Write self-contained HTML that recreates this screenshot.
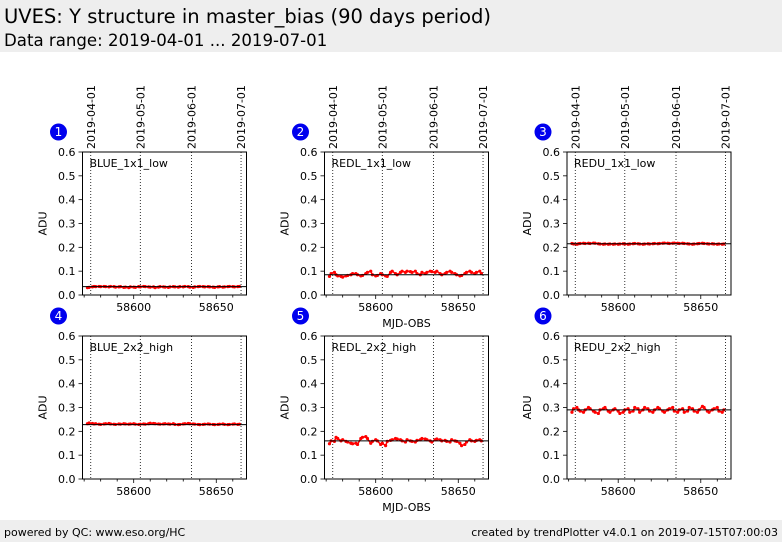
<!DOCTYPE html>
<html><head><meta charset="utf-8">
<style>
body{margin:0;width:782px;height:542px;background:#fff;overflow:hidden;font-family:"DejaVu Sans","Liberation Sans",sans-serif;}
svg text{font-family:"DejaVu Sans","Liberation Sans",sans-serif;}
</style></head>
<body>
<svg id="chart" width="782" height="542" xmlns="http://www.w3.org/2000/svg">
<rect x="0" y="0" width="782" height="52" fill="#eeeeee"/>
<text x="4" y="23" font-size="19.5">UVES: Y structure in master_bias (90 days period)</text>
<text x="4" y="46" font-size="16.6">Data range: 2019-04-01 ... 2019-07-01</text>
<rect x="0" y="520" width="782" height="22" fill="#eeeeee"/>
<text x="4" y="536" font-size="11">powered by QC: www.eso.org/HC</text>
<text x="778" y="536" font-size="11" text-anchor="end">created by trendPlotter v4.0.1 on 2019-07-15T07:00:03</text>
<g id="panels"></g>
</svg>
<script>
const mjd=[58572,58573,58575,58576,58577,58579,58580,58582,58583,58585,58586,58588,58589,58591,58592,58594,58595,58597,58598,58600,58601,58603,58604,58606,58607,58609,58610,58612,58613,58615,58616,58618,58619,58621,58622,58624,58625,58627,58628,58630,58631,58633,58634,58636,58637,58639,58640,58642,58643,58645,58646,58648,58649,58651,58652,58654,58655,58657,58658,58660,58661,58663,58664];
const panelNames=["BLUE_1x1_low","REDL_1x1_low","REDU_1x1_low","BLUE_2x2_high","REDL_2x2_high","REDU_2x2_high"];
const refLines=[0.035,0.085,0.215,0.228,0.16,0.29];
const v1=[0.031,0.032,0.034,0.036,0.035,0.036,0.035,0.036,0.035,0.034,0.036,0.035,0.033,0.034,0.035,0.032,0.033,0.031,0.034,0.033,0.032,0.035,0.034,0.036,0.035,0.034,0.033,0.034,0.031,0.033,0.035,0.034,0.033,0.032,0.034,0.035,0.034,0.033,0.035,0.034,0.036,0.035,0.033,0.032,0.034,0.035,0.036,0.035,0.034,0.035,0.034,0.033,0.032,0.034,0.035,0.033,0.034,0.035,0.036,0.035,0.034,0.035,0.036];
const v2=[0.078,0.09,0.095,0.085,0.08,0.078,0.075,0.08,0.082,0.085,0.09,0.09,0.085,0.08,0.082,0.09,0.095,0.1,0.085,0.08,0.082,0.09,0.085,0.08,0.078,0.095,0.1,0.09,0.085,0.095,0.1,0.095,0.1,0.098,0.095,0.1,0.09,0.085,0.095,0.09,0.095,0.1,0.098,0.095,0.1,0.09,0.085,0.09,0.095,0.1,0.095,0.09,0.085,0.08,0.082,0.09,0.095,0.1,0.095,0.09,0.095,0.1,0.09];
const v3=[0.216,0.214,0.213,0.215,0.216,0.217,0.216,0.217,0.216,0.218,0.217,0.215,0.214,0.213,0.214,0.213,0.214,0.213,0.214,0.213,0.214,0.215,0.214,0.213,0.214,0.215,0.216,0.215,0.214,0.213,0.214,0.215,0.214,0.215,0.216,0.215,0.216,0.217,0.218,0.217,0.216,0.217,0.218,0.217,0.216,0.217,0.216,0.215,0.214,0.213,0.214,0.215,0.216,0.217,0.216,0.215,0.214,0.215,0.214,0.213,0.214,0.213,0.214];
const v4=[0.232,0.235,0.233,0.231,0.232,0.230,0.229,0.231,0.232,0.233,0.231,0.230,0.229,0.231,0.230,0.232,0.231,0.230,0.231,0.232,0.230,0.229,0.230,0.231,0.230,0.232,0.234,0.233,0.232,0.231,0.230,0.231,0.232,0.231,0.230,0.232,0.229,0.228,0.229,0.231,0.232,0.233,0.232,0.231,0.230,0.229,0.228,0.229,0.230,0.231,0.230,0.229,0.228,0.229,0.230,0.231,0.229,0.228,0.229,0.230,0.231,0.229,0.230];
const v5=[0.148,0.16,0.158,0.175,0.17,0.16,0.165,0.158,0.155,0.15,0.148,0.15,0.145,0.17,0.175,0.178,0.17,0.15,0.158,0.165,0.16,0.145,0.15,0.14,0.158,0.162,0.165,0.17,0.168,0.165,0.16,0.155,0.165,0.16,0.158,0.155,0.162,0.165,0.17,0.168,0.165,0.16,0.155,0.165,0.168,0.165,0.16,0.162,0.158,0.155,0.165,0.16,0.158,0.15,0.14,0.145,0.155,0.165,0.16,0.158,0.162,0.165,0.16];
const v6=[0.28,0.295,0.3,0.29,0.285,0.28,0.29,0.3,0.295,0.285,0.28,0.275,0.29,0.295,0.3,0.285,0.28,0.29,0.295,0.285,0.275,0.28,0.29,0.295,0.28,0.285,0.3,0.295,0.28,0.29,0.3,0.295,0.285,0.28,0.29,0.3,0.295,0.285,0.28,0.29,0.295,0.3,0.285,0.28,0.29,0.295,0.28,0.285,0.3,0.295,0.285,0.28,0.29,0.305,0.3,0.285,0.28,0.29,0.295,0.3,0.285,0.28,0.29];
const values=[v1,v2,v3,v4,v5,v6];
const yTicks=[0,0.1,0.2,0.3,0.4,0.5,0.6];
const xMajor=[58600,58650];
const dateLabels=["2019-04-01","2019-05-01","2019-06-01","2019-07-01"];
const dateMjd=[58574,58604,58635,58665];

const NS="http://www.w3.org/2000/svg";
const g=document.getElementById('panels');
const colX=[82.5,324.5,567], rowY=[152,336], W=164, H=143;
const xMin=58569, xMax=58668.3, yMin=0, yMax=0.6;
function mk(tag,attrs,parent){const e=document.createElementNS(NS,tag);for(const k in attrs)e.setAttribute(k,attrs[k]);(parent||g).appendChild(e);return e;}
for(let p=0;p<6;p++){
  const L=colX[p%3], T=rowY[Math.floor(p/3)];
  const sx=m=>L+(m-xMin)/(xMax-xMin)*W;
  const sy=v=>T+H-(v-yMin)/(yMax-yMin)*H;
  const pg=mk('g',{});
  
  
  const bc=mk('circle',{cx:L-24,cy:T-20,r:8.5,fill:'#0000ee'},pg);
  
  
  const bt=mk('text',{x:L-24,y:T-16,'font-size':12,fill:'#fff','text-anchor':'middle'},pg);
  bt.textContent=String(p+1);
  
  
  dateMjd.forEach((d,i)=>{
    const x=sx(d);
    const dl=mk('line',{x1:x,x2:x,y1:T,y2:T+H,stroke:'#000','stroke-width':0.8,'stroke-dasharray':'1,2'},pg);
    
    
    if(p<3){
      const t=mk('text',{x:0,y:0,'font-size':11,transform:`translate(${x+4},${T-3}) rotate(-90)`},pg);
      t.textContent=dateLabels[i];
      
      
    }
  });
  yTicks.forEach(v=>{
    const y=sy(v);
    mk('line',{x1:L-4,x2:L,y1:y,y2:y,stroke:'#000','stroke-width':0.8},pg);
    const t=mk('text',{x:L-7,y:y+4,'font-size':11,'text-anchor':'end'},pg);
    t.textContent=v.toFixed(1);
    
    
  });
  for(let m=58570;m<=xMax;m+=10){
    const x=sx(m);
    mk('line',{x1:x,x2:x,y1:T+H,y2:T+H+(xMajor.includes(m)?4:2.5),stroke:'#000','stroke-width':0.8},pg);
  }
  xMajor.forEach(m=>{
    const t=mk('text',{x:sx(m),y:T+H+16,'font-size':11,'text-anchor':'middle'},pg);
    t.textContent=String(m);
    
    
  });
  const yl=mk('text',{x:0,y:0,'font-size':11,'text-anchor':'middle',transform:`translate(${L-36},${T+H/2}) rotate(-90)`},pg);
  yl.textContent='ADU';
  
  
  if(p%3===1){
    const xl=mk('text',{x:L+W/2,y:T+H+32,'font-size':11,'text-anchor':'middle'},pg);
    xl.textContent='MJD-OBS';
    
    
  }
  const vals=values[p];
  const n=Math.min(vals.length,mjd.length);
  let pts=[];
  for(let i=0;i<n;i++)pts.push(sx(mjd[i]).toFixed(1)+','+sy(vals[i]).toFixed(1));
  const pl=mk('polyline',{points:pts.join(' '),fill:'none',stroke:'#ff0000','stroke-width':1.5},pg);
  
  
  for(let i=0;i<n;i++){
    const c=mk('circle',{cx:sx(mjd[i]),cy:sy(vals[i]),r:1.6,fill:'#ff0000'},pg);
    
    
  }
  const rl=mk('line',{x1:L,x2:L+W,y1:sy(refLines[p]),y2:sy(refLines[p]),stroke:'#000','stroke-width':1},pg);
  
  
  const fr=mk('rect',{x:L,y:T,width:W,height:H,fill:'none',stroke:'#000','stroke-width':1},pg);
  
  
  const lab=mk('text',{x:L+7,y:T+15,'font-size':11},pg);
  lab.textContent=panelNames[p];
  
  
}
</script>
</body></html>
